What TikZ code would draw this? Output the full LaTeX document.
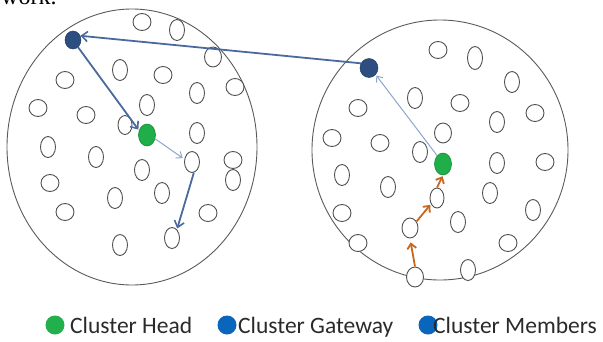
\documentclass[tikz,border=0pt]{standalone}
\usepackage{fontspec}
\usetikzlibrary{shapes.geometric,arrows.meta}
\newfontfamily\legendfont{Carlito}
\newfontfamily\captionfont{Liberation Serif}
\definecolor{ringgray}{HTML}{5A5A5A}
\definecolor{nodegray}{HTML}{505050}
\definecolor{gatefill}{HTML}{2C4E80}
\definecolor{headfill}{HTML}{1FAE48}
\definecolor{headedge}{HTML}{168A38}
\definecolor{linkblue}{HTML}{4A6A9E}
\definecolor{linklight}{HTML}{8CA6CC}
\definecolor{hopcolor}{HTML}{C8661E}
\definecolor{legblue}{HTML}{0A66BC}
\definecolor{leggreen}{HTML}{22B04C}
\definecolor{legtext}{HTML}{2A2A2A}
\tikzset{
  cluster/.style={ellipse, draw=ringgray, line width=0.9pt, inner sep=0pt},
  member/.style={ellipse, draw=nodegray, line width=0.9pt, inner sep=0pt,
                 minimum width=15pt, minimum height=21pt, fill=white},
  memround/.style={member, minimum width=18pt, minimum height=17pt},
  gateway/.style={ellipse, fill=gatefill, draw=gatefill!80!black, line width=0.5pt,
                  inner sep=0pt, minimum width=16pt, minimum height=18pt},
  head/.style={ellipse, fill=headfill, draw=headedge, line width=0.6pt,
               inner sep=0pt, minimum width=17pt, minimum height=22pt},
  bigarrow/.style={draw=linkblue, line width=1.8pt,
                   -{Straight Barb[length=6pt,width=10pt,line width=1.6pt]}},
  thinarrow/.style={draw=linklight, line width=1pt,
                    -{Straight Barb[length=5pt,width=8pt,line width=1pt]}},
  hoparrow/.style={draw=hopcolor, line width=1.8pt,
                   -{Straight Barb[length=5pt,width=9pt,line width=1.8pt]}},
  legdot/.style={circle, inner sep=0pt, minimum size=19pt},
  legtxt/.style={anchor=base west, inner sep=0pt, text=legtext,
                 font=\legendfont\fontsize{23.5}{28}\selectfont}
}
\begin{document}
\begin{tikzpicture}[x=1pt, y=-1pt]
\useasboundingbox (0,0) rectangle (603,341);

% tail of the caption line above the figure
\node[anchor=base west, inner sep=0pt, font=\captionfont\fontsize{24}{28}\selectfont]
  (captail) at (1,4) {work.};

% the two clusters
\node[cluster, minimum width=250pt, minimum height=276pt] (cl) at (132,147) {};
\node[cluster, minimum width=256pt, minimum height=260pt] (cr) at (440,150) {};

% members of the left cluster
\node[memround] (l1)  at (142,22)  {};
\node[member]   (l2)  at (177,30)  {};
\node[member, minimum width=17pt, minimum height=20pt] (l3) at (213,57) {};
\node[memround] (l4)  at (235,87)  {};
\node[memround] (l5)  at (65,80)   {};
\node[member]   (l6)  at (120,70)  {};
\node[memround] (l7)  at (163,75)  {};
\node[member]   (l8)  at (197,93)  {};
\node[memround] (l9)  at (38,108)  {};
\node[memround] (l10) at (86,115)  {};
\node[member]   (l11) at (147,105) {};
\node[member, minimum width=14pt, minimum height=19pt] (l12) at (125,125) {};
\node[member]   (l13) at (48,147)  {};
\node[member]   (l14) at (96,157)  {};
\node[member]   (l15) at (142,170) {};
\node[member]   (l16) at (197,133) {};
\node[member]   (l17) at (192,162) {};
\node[memround] (l18) at (233,160) {};
\node[member]   (l19) at (233,180) {};
\node[memround] (l20) at (50,183)  {};
\node[member]   (l21) at (115,198) {};
\node[member]   (l22) at (162,193) {};
\node[memround] (l23) at (65,212)  {};
\node[memround] (l24) at (208,213) {};
\node[member]   (l25) at (120,245) {};
\node[member]   (l26) at (172,238) {};

% members of the right cluster
\node[memround] (r1)  at (438,50)  {};
\node[member, minimum height=23pt] (r2) at (475,58) {};
\node[member]   (r3)  at (512,82)  {};
\node[memround] (r4)  at (358,108) {};
\node[member]   (r5)  at (415,98)  {};
\node[memround] (r6)  at (460,103) {};
\node[member]   (r7)  at (497,122) {};
\node[memround] (r8)  at (535,113) {};
\node[memround] (r9)  at (332,138) {};
\node[memround] (r10) at (380,143) {};
\node[member, minimum width=17pt, minimum height=20pt] (r11) at (443,133) {};
\node[member]   (r12) at (420,152) {};
\node[member]   (r13) at (497,163) {};
\node[memround] (r14) at (545,162) {};
\node[member]   (r15) at (342,175) {};
\node[member]   (r16) at (388,187) {};
\node[member, minimum width=14pt, minimum height=20pt] (r17) at (437,198) {};
\node[member]   (r18) at (490,193) {};
\node[memround] (r19) at (342,213) {};
\node[member]   (r20) at (458,222) {};
\node[member, minimum width=16pt, minimum height=20pt] (r21) at (410,228) {};
\node[member]   (r22) at (533,210) {};
\node[memround] (r23) at (358,243) {};
\node[memround] (r24) at (508,243) {};
\node[member, minimum width=17pt, minimum height=20pt] (r25) at (415,277) {};
\node[member]   (r26) at (468,270) {};

% gateways and cluster heads
\node[gateway] (lg) at (73,40)  {};
\node[gateway, minimum width=18pt, minimum height=19pt] (rg) at (369,68) {};
\node[head] (lh) at (147,135) {};
\node[head] (rh) at (443,164) {};

% routes
\draw[bigarrow] (rg.150) -- (lg.30);
\draw[bigarrow, shorten >=1pt] (lg.-55) -- (lh.150);
\draw[thinarrow, shorten >=2pt] (lh.-25) -- (l17.160);
\draw[bigarrow, shorten >=1pt] (l17.-80) -- (l26.60);
\draw[thinarrow, shorten >=1pt] (rh.125) -- (rg.-45);
\draw[hoparrow, shorten >=4pt] (r25.north) -- (r21.south);
\draw[hoparrow, shorten >=1pt] (r21.45) -- (r17.-135);
\draw[hoparrow, shorten >=1pt] (r17.north) -- (rh.south);

% legend
\node[legdot, fill=leggreen] (kh) at (55,325) {};
\node[legtxt] (th) at (70,333) {Cluster Head};
\node[legdot, fill=legblue] (kg) at (227,325) {};
\node[legtxt] (tg) at (238,333) {Cluster Gateway};
\node[legdot, fill=legblue] (km) at (428,325) {};
\node[legtxt] (tm) at (433,333) {Cluster Members};
\end{tikzpicture}
\end{document}
